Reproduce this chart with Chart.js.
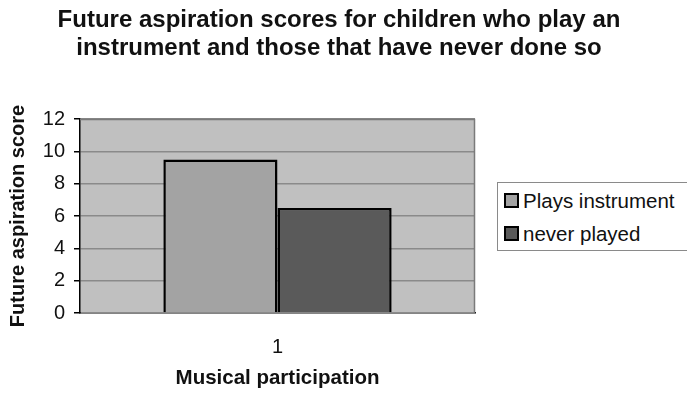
<!DOCTYPE html>
<html>
<head>
<meta charset="utf-8">
<script src="https://cdn.jsdelivr.net/npm/chart.js@4.4.1/dist/chart.umd.min.js"></script>
<style>
  body { margin: 0; background: #fff; }
  #wrap { position: relative; width: 687px; height: 395px; overflow: hidden; }
  #legend {
    position: absolute; left: 497px; top: 182px; width: 220px; height: 69px;
    border: 1px solid #8a8a8a; background: #fff;
    font: 20.5px "Liberation Sans", Arial, sans-serif; color: #111;
    padding: 1px 0 0 6px; box-sizing: border-box;
  }
  #legend div { display: flex; align-items: center; height: 33px; white-space: nowrap; }
  #legend span.box { width: 11px; height: 11px; border: 2px solid #000; margin-right: 4px; flex: none; }
</style>
</head>
<body>
<div id="wrap">
  <canvas id="barChart" width="687" height="395"></canvas>
  <div id="legend"></div>
</div>
<script>
const categories = ["1"];
const playsInstrument = [9.5];
const neverPlayed = [6.5];
const seriesNames = ["Plays instrument", "never played"];
const seriesColors = ["#a3a3a3", "#5a5a5a"];
const yTicks = [0, 2, 4, 6, 8, 10, 12];
const titleLines = ["Future aspiration scores for children who play an", "instrument and those that have never done so"];

// grey plot background with frame
const plotBg = {
  id: "plotBg",
  beforeDraw(chart) {
    const { ctx, chartArea: a } = chart;
    ctx.save();
    ctx.fillStyle = "#c0c0c0";
    ctx.fillRect(a.left, a.top, a.right - a.left, a.bottom - a.top);
    ctx.restore();
  },
  afterDatasetsDraw(chart) {
    const { ctx, chartArea: a } = chart;
    ctx.save();
    ctx.strokeStyle = "#7a7a7a";
    ctx.lineWidth = 1.5;
    ctx.beginPath();
    ctx.moveTo(a.left, a.top + 0.5);
    ctx.lineTo(a.right - 0.5, a.top + 0.5);
    ctx.lineTo(a.right - 0.5, a.bottom);
    ctx.stroke();
    ctx.restore();
  }
};

// two-line title centred over the whole picture
const bigTitle = {
  id: "bigTitle",
  afterDraw(chart) {
    const ctx = chart.ctx;
    ctx.save();
    ctx.fillStyle = "#111";
    ctx.font = "bold 24px 'Liberation Sans', Arial, sans-serif";
    ctx.textAlign = "center";
    ctx.textBaseline = "alphabetic";
    ctx.fillText(titleLines[0], 339, 27);
    ctx.fillText(titleLines[1], 339, 55);
    ctx.restore();
  }
};

const ctx = document.getElementById("barChart").getContext("2d");
const chart = new Chart(ctx, {
  type: "bar",
  data: {
    labels: categories,
    datasets: [
      { label: seriesNames[0], data: playsInstrument, backgroundColor: seriesColors[0], borderColor: "#000", borderWidth: 2.5 },
      { label: seriesNames[1], data: neverPlayed, backgroundColor: seriesColors[1], borderColor: "#000", borderWidth: 2.5 }
    ]
  },
  options: {
    responsive: false,
    animation: false,
    layout: { padding: { left: 0, right: 212, top: 119, bottom: 0 } },
    datasets: { bar: { categoryPercentage: 0.578, barPercentage: 1 } },
    plugins: {
      legend: { display: false },
      tooltip: { enabled: false },
      title: { display: false }
    },
    scales: {
      x: {
        afterFit(axis) { axis.height = 395 - 313; },
        grid: { display: false, drawTicks: false },
        border: { color: "#000", width: 1.5 },
        ticks: { color: "#111", font: { family: "Liberation Sans", size: 20 }, padding: 22 },
        title: { display: true, text: "Musical participation", color: "#111", font: { family: "Liberation Sans", size: 20.5, weight: "bold" }, padding: { top: 0, bottom: 4 } }
      },
      y: {
        min: 0, max: 12,
        afterFit(axis) { axis.width = 80; },
        afterBuildTicks(axis) { axis.ticks = yTicks.map(v => ({ value: v })); },
        grid: { color: "#8a8a8a", lineWidth: 1.5, tickLength: 6, tickColor: "#000", z: 0 },
        border: { color: "#000", width: 1.5 },
        ticks: { color: "#111", font: { family: "Liberation Sans", size: 20 }, padding: 9 },
        title: { display: true, text: "Future aspiration score", color: "#111", font: { family: "Liberation Sans", size: 20, weight: "bold" }, padding: { top: 6, bottom: 0 } }
      }
    }
  },
  plugins: [plotBg, bigTitle]
});

// legend built from the datasets
const legendEl = document.getElementById("legend");
chart.data.datasets.forEach(ds => {
  const row = document.createElement("div");
  row.innerHTML = '<span class="box" style="background:' + ds.backgroundColor + '"></span>' + ds.label;
  legendEl.appendChild(row);
});
</script>
</body>
</html>
